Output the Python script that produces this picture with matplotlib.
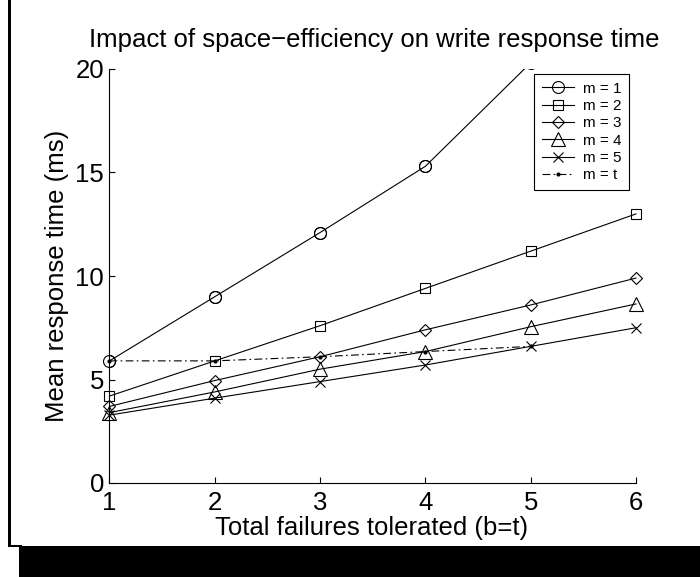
import matplotlib
matplotlib.use("Agg")
import matplotlib.pyplot as plt
from matplotlib.patches import Rectangle

plt.rcParams['font.family'] = ['Liberation Sans', 'DejaVu Sans']

# total failures tolerated (b=t)
failures = [1, 2, 3, 4, 5, 6]
m1 = [5.9, 9.0, 12.1, 15.3, 20.3, 25.5]
m2 = [4.2, 5.9, 7.6, 9.4, 11.2, 13.0]
m3 = [3.7, 4.95, 6.1, 7.4, 8.6, 9.9]
m4 = [3.4, 4.4, 5.5, 6.35, 7.55, 8.65]
m5 = [3.28, 4.1, 4.9, 5.7, 6.6, 7.5]
failures_t = [1, 2, 3, 4, 5]
mt = [5.9, 5.9, 6.1, 6.35, 6.6]

labels = ['m = 1', 'm = 2', 'm = 3', 'm = 4', 'm = 5', 'm = t']

W, H = 700, 577
fig = plt.figure(figsize=(7, 5.77), dpi=100)
fig.patch.set_facecolor('white')

# axes in pixel terms: x 109.5..636, y 69..483 (from top)
ax = fig.add_axes([109.5 / W, 1 - 483 / H, 526.5 / W, 414 / H])
ymax = 20

lw = 0.8
mew = 0.8
ax.plot(failures, m1, '-', color='k', lw=lw, marker='o', ms=8.6, mfc='none', mec='k', mew=mew, label=labels[0])
# markers of m=1 that lie inside the axes are drawn whole, like matlab
m1_in = [(x, y) for x, y in zip(failures, m1) if y <= ymax]
ax.plot([p[0] for p in m1_in], [p[1] for p in m1_in], linestyle='none', marker='o', ms=8.6,
        mfc='none', mec='k', mew=mew, clip_on=False)
ax.plot(failures, m2, '-', color='k', lw=lw, marker='s', ms=7.6, mfc='none', mec='k', mew=mew, label=labels[1], clip_on=False)
ax.plot(failures, m3, '-', color='k', lw=lw, marker='D', ms=6.0, mfc='none', mec='k', mew=mew, label=labels[2], clip_on=False)
ax.plot(failures, m4, '-', color='k', lw=lw, marker='^', ms=10.0, mfc='none', mec='k', mew=mew, label=labels[3], clip_on=False)
ax.plot(failures, m5, '-', color='k', lw=lw, marker='x', ms=7.0, mec='k', mew=mew, label=labels[4], clip_on=False)
ax.plot(failures_t, mt, linestyle=(0, (7, 3, 1.5, 3)), color='k', lw=lw, marker='.', ms=4, label=labels[5], clip_on=False)

ax.set_xlim(1, 6)
ax.set_ylim(0, ymax)
ax.set_xticks([1, 2, 3, 4, 5, 6])
ax.set_yticks([0, 5, 10, 15, 20])
ax.spines['top'].set_visible(False)
ax.spines['right'].set_visible(False)
ax.spines['left'].set_linewidth(0.8)
ax.spines['bottom'].set_linewidth(0.8)
ax.tick_params(direction='in', length=4, width=0.8, labelsize=18.5)
ax.tick_params(axis='x', pad=5.5)
ax.tick_params(axis='y', pad=4)

leg = ax.legend(loc='upper left', bbox_to_anchor=(534 / W, 1 - 74 / H),
                bbox_transform=fig.transFigure, borderaxespad=0,
                fontsize=11, numpoints=1, handlelength=2.1, handletextpad=0.6,
                labelspacing=0.22, borderpad=0.5, fancybox=False,
                framealpha=1, edgecolor='k')
leg.get_frame().set_linewidth(0.8)

fig.text(374 / W, 1 - 47 / H, 'Impact of space\u2212efficiency on write response time',
         ha='center', va='baseline', fontsize=18.5)
fig.text(372 / W, 1 - 535 / H, 'Total failures tolerated (b=t)',
         ha='center', va='baseline', fontsize=18.5)
fig.text(57 / W, 1 - 276 / H, 'Mean response time (ms)', rotation=90,
         ha='center', va='center', fontsize=18.5)

# outer frame: left border and bottom shadow band
band_top = 546
fig.patches.append(Rectangle((8 / W, 1 - (band_top + 1) / H), 2.5 / W, (band_top + 1) / H,
                             transform=fig.transFigure, color='k', lw=0))
fig.patches.append(Rectangle((8 / W, 1 - (band_top + 1) / H), 14 / W, 2.5 / H,
                             transform=fig.transFigure, color='k', lw=0))
fig.patches.append(Rectangle((19 / W, 0), (W - 19) / W, (H - band_top) / H,
                             transform=fig.transFigure, color='k', lw=0))

fig.savefig('out.png', dpi=100)
